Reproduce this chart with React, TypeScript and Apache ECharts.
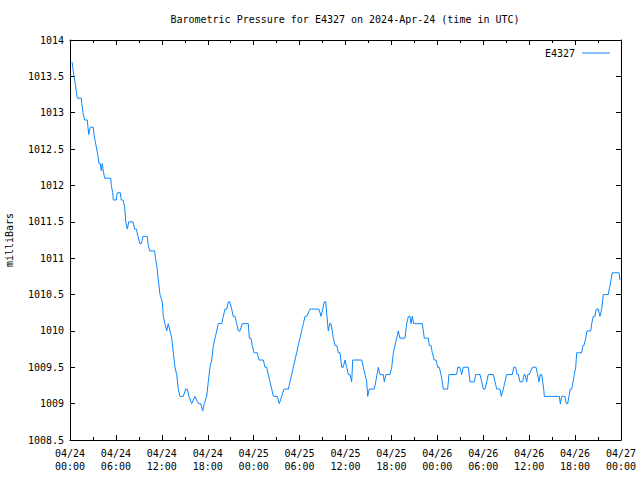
import { useEffect, useRef } from "react";
import * as echarts from "echarts";

const chartTitle = "Barometric Pressure for E4327 on 2024-Apr-24 (time in UTC)";
const seriesName = "E4327";
const yAxisTitle = "milliBars";
const xTickLabels = [
  "04/24\n00:00", "04/24\n06:00", "04/24\n12:00", "04/24\n18:00",
  "04/25\n00:00", "04/25\n06:00", "04/25\n12:00", "04/25\n18:00",
  "04/26\n00:00", "04/26\n06:00", "04/26\n12:00", "04/26\n18:00",
  "04/27\n00:00",
];

// hours since 2024-04-24 00:00 UTC
const hours = [
  0.26, 0.52, 0.69, 0.82, 0.95, 1.48, 1.57, 1.70, 1.92, 2.26, 2.44, 2.65, 3.04, 3.14, 3.31, 3.49, 3.66, 3.79, 3.96, 4.09,
  4.22, 4.35, 4.53, 5.32, 5.40, 5.58, 5.66, 6.05, 6.18, 6.57, 6.70, 6.93, 7.15, 7.28, 7.49, 7.67, 8.23, 8.45, 8.66, 8.89,
  9.11, 9.32, 9.54, 10.10, 10.19, 10.41, 11.07, 11.17, 11.33, 11.54, 11.76, 12.06, 12.19, 12.41, 12.64, 12.84, 13.07, 13.29, 13.50, 13.72,
  13.94, 14.15, 14.37, 14.60, 14.80, 15.12, 15.33, 15.55, 15.90, 16.33, 16.77, 17.08, 17.34, 17.55, 17.86, 18.07, 18.29, 18.52, 18.73, 18.95,
  19.17, 19.38, 19.82, 20.03, 20.25, 20.48, 20.69, 20.87, 21.13, 21.34, 21.56, 21.78, 21.99, 22.21, 22.51, 23.30, 23.43, 23.65, 23.82, 24.04,
  24.27, 24.47, 24.70, 25.26, 25.48, 25.70, 25.91, 26.13, 26.36, 26.57, 27.09, 27.35, 27.66, 27.96, 28.53, 28.75, 28.97, 29.18, 29.40, 29.62,
  29.83, 30.05, 30.28, 30.49, 30.71, 30.93, 31.36, 31.58, 32.54, 32.80, 33.02, 33.23, 33.41, 33.58, 33.75, 33.94, 34.10, 34.27, 34.41, 34.63,
  34.85, 35.06, 35.28, 35.50, 35.71, 35.93, 36.16, 36.37, 36.59, 36.81, 36.94, 38.12, 38.33, 38.55, 38.77, 38.90, 39.11, 39.33, 39.76, 39.95,
  40.12, 40.29, 40.51, 40.73, 40.94, 41.07, 41.29, 41.81, 42.04, 42.25, 42.47, 42.69, 42.90, 43.12, 43.34, 43.77, 44.00, 44.21, 44.43, 44.56,
  44.73, 44.91, 46.04, 46.17, 46.30, 46.82, 46.95, 47.17, 47.34, 47.60, 47.83, 48.05, 48.26, 48.48, 48.65, 48.78, 49.35, 49.52, 50.53, 50.66,
  50.96, 51.18, 51.39, 52.05, 52.27, 52.83, 53.01, 53.22, 53.58, 53.80, 54.01, 54.23, 54.45, 54.66, 55.31, 55.54, 55.76, 55.97, 56.19, 56.36,
  56.62, 56.84, 57.06, 57.80, 57.98, 58.24, 58.41, 58.58, 58.80, 59.15, 59.32, 59.46, 59.68, 59.81, 60.02, 60.41, 60.67, 60.89, 61.11, 61.28,
  61.45, 61.64, 61.77, 61.90, 61.98, 63.81, 63.94, 64.07, 64.25, 64.46, 64.68, 64.85, 65.04, 65.20, 65.37, 65.56, 65.73, 65.90, 66.08, 66.21,
  66.42, 66.86, 67.03, 67.16, 67.39, 67.56, 67.73, 68.04, 68.17, 68.38, 68.60, 68.77, 69.03, 69.25, 69.48, 69.69, 69.82, 70.34, 70.52, 70.69,
  70.86, 71.12, 71.57, 71.74, 71.87,
];

const pressure = [
  1013.7, 1013.5, 1013.4, 1013.3, 1013.2, 1013.2, 1013.1, 1013.0, 1012.9, 1012.9, 1012.7, 1012.8, 1012.8, 1012.7, 1012.6, 1012.5, 1012.4, 1012.3, 1012.3, 1012.2,
  1012.3, 1012.2, 1012.1, 1012.1, 1012.0, 1011.9, 1011.8, 1011.8, 1011.9, 1011.9, 1011.8, 1011.8, 1011.7, 1011.5, 1011.4, 1011.5, 1011.5, 1011.4, 1011.4, 1011.3,
  1011.2, 1011.2, 1011.3, 1011.3, 1011.2, 1011.1, 1011.1, 1011.0, 1010.9, 1010.7, 1010.5, 1010.4, 1010.2, 1010.1, 1010.0, 1010.1, 1010.0, 1009.9, 1009.7, 1009.5,
  1009.4, 1009.2, 1009.1, 1009.1, 1009.1, 1009.2, 1009.2, 1009.1, 1009.0, 1009.1, 1009.0, 1009.0, 1008.9, 1009.0, 1009.1, 1009.3, 1009.5, 1009.6, 1009.8, 1009.9,
  1010.0, 1010.1, 1010.1, 1010.2, 1010.3, 1010.3, 1010.4, 1010.4, 1010.3, 1010.2, 1010.2, 1010.1, 1010.0, 1010.0, 1010.1, 1010.1, 1009.9, 1009.9, 1009.8, 1009.7,
  1009.7, 1009.7, 1009.6, 1009.6, 1009.5, 1009.5, 1009.4, 1009.3, 1009.2, 1009.1, 1009.1, 1009.0, 1009.1, 1009.2, 1009.2, 1009.3, 1009.4, 1009.5, 1009.6, 1009.7,
  1009.8, 1009.9, 1010.0, 1010.1, 1010.2, 1010.2, 1010.3, 1010.3, 1010.3, 1010.2, 1010.3, 1010.4, 1010.4, 1010.2, 1010.0, 1010.1, 1010.1, 1010.0, 1009.9, 1009.8,
  1009.8, 1009.7, 1009.7, 1009.5, 1009.5, 1009.6, 1009.5, 1009.4, 1009.4, 1009.3, 1009.6, 1009.6, 1009.5, 1009.4, 1009.3, 1009.1, 1009.2, 1009.2, 1009.2, 1009.3,
  1009.4, 1009.5, 1009.4, 1009.4, 1009.4, 1009.3, 1009.4, 1009.4, 1009.5, 1009.7, 1009.8, 1009.9, 1010.0, 1009.9, 1009.9, 1009.9, 1010.1, 1010.2, 1010.2, 1010.1,
  1010.2, 1010.1, 1010.1, 1010.0, 1009.9, 1009.9, 1009.8, 1009.8, 1009.7, 1009.6, 1009.6, 1009.5, 1009.5, 1009.4, 1009.3, 1009.2, 1009.2, 1009.4, 1009.4, 1009.5,
  1009.5, 1009.4, 1009.5, 1009.5, 1009.3, 1009.3, 1009.4, 1009.4, 1009.4, 1009.3, 1009.2, 1009.2, 1009.3, 1009.4, 1009.4, 1009.3, 1009.2, 1009.2, 1009.2, 1009.1,
  1009.2, 1009.3, 1009.4, 1009.4, 1009.5, 1009.5, 1009.4, 1009.4, 1009.3, 1009.3, 1009.4, 1009.4, 1009.3, 1009.4, 1009.4, 1009.5, 1009.5, 1009.5, 1009.4, 1009.3,
  1009.4, 1009.4, 1009.3, 1009.2, 1009.1, 1009.1, 1009.1, 1009.0, 1009.1, 1009.1, 1009.1, 1009.0, 1009.0, 1009.1, 1009.2, 1009.2, 1009.3, 1009.4, 1009.5, 1009.7,
  1009.7, 1009.7, 1009.8, 1009.8, 1009.9, 1010.0, 1010.0, 1010.0, 1010.1, 1010.2, 1010.2, 1010.3, 1010.3, 1010.2, 1010.3, 1010.5, 1010.5, 1010.5, 1010.6, 1010.7,
  1010.8, 1010.8, 1010.8, 1010.8, 1010.7,
];

const FONT = "'DejaVu Sans Mono', 'Liberation Mono', monospace";
const BLACK = "#000000";
const LINE_COLOR = "#0a86ff";

export default function App() {
  const ref = useRef<HTMLDivElement>(null);

  useEffect(() => {
    if (!ref.current) return;
    const chart = echarts.init(ref.current, null, { renderer: "svg" });

    const baseX = {
      type: "value",
      min: 0,
      max: 72,
      interval: 6,
      axisLine: { show: true, onZero: false, lineStyle: { color: BLACK, width: 1 } },
      axisTick: { show: true, inside: true, length: 5, lineStyle: { color: BLACK } },
      minorTick: { show: true, splitNumber: 2, length: 3, lineStyle: { color: BLACK } },
      splitLine: { show: false },
      minorSplitLine: { show: false },
    };
    const baseY = {
      type: "value",
      min: 1008.5,
      max: 1014,
      interval: 0.5,
      axisLine: { show: true, onZero: false, lineStyle: { color: BLACK, width: 1 } },
      axisTick: { show: true, inside: true, length: 5, lineStyle: { color: BLACK } },
      splitLine: { show: false },
    };

    chart.setOption({
      animation: false,
      textStyle: { fontFamily: FONT, fontSize: 10, color: BLACK },
      grid: { left: 70, right: 19, top: 40, bottom: 40, containLabel: false, outerBoundsMode: "none" },
      graphic: [
        {
          type: "text",
          x: 345,
          y: 19,
          style: {
            text: chartTitle,
            font: `10px ${FONT}`,
            fill: BLACK,
            textAlign: "center",
            textVerticalAlign: "middle",
          },
        },
      ],
      legend: {
        show: true,
        right: 25,
        top: 43,
        align: "right",
        icon: "rect",
        itemWidth: 28,
        itemHeight: 1,
        textStyle: { fontFamily: FONT, fontSize: 10, color: BLACK, padding: [0, 2, 0, 0] },
        data: [seriesName],
      },
      xAxis: [
        {
          ...baseX,
          position: "bottom",
          axisLabel: {
            show: true,
            margin: 7,
            lineHeight: 13,
            fontFamily: FONT,
            fontSize: 10,
            color: BLACK,
            formatter: (v: number) => xTickLabels[Math.round(v / 6)] ?? "",
          },
        },
        {
          ...baseX,
          position: "top",
          axisLabel: { show: false },
        },
      ],
      yAxis: [
        {
          ...baseY,
          position: "left",
          name: yAxisTitle,
          nameLocation: "middle",
          nameGap: 56,
          nameRotate: 90,
          nameTextStyle: { fontFamily: FONT, fontSize: 10, color: BLACK },
          axisLabel: {
            show: true,
            margin: 6,
            fontFamily: FONT,
            fontSize: 10,
            color: BLACK,
            formatter: (v: number) => String(v),
          },
        },
        {
          ...baseY,
          position: "right",
          axisLabel: { show: false },
        },
      ],
      series: [
        {
          type: "line",
          name: seriesName,
          xAxisIndex: 0,
          yAxisIndex: 0,
          data: hours.map((h, i) => [h, pressure[i]]),
          showSymbol: false,
          symbol: "none",
          lineStyle: { color: LINE_COLOR, width: 1 },
          itemStyle: { color: LINE_COLOR },
        },
      ],
    });

    return () => chart.dispose();
  }, []);

  return (
    <div
      ref={ref}
      style={{ position: "fixed", left: 0, top: 0, width: 640, height: 480, background: "#fff" }}
    />
  );
}
